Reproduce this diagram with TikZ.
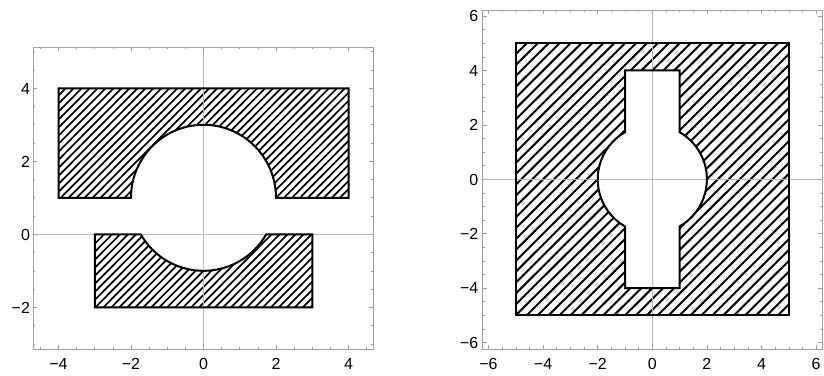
\documentclass[tikz,border=0pt]{standalone}
\usepackage{fontspec}
\setmainfont{Liberation Sans}
\begin{document}
\begin{tikzpicture}[
    frm/.style={draw=gray!75,line width=0.8pt},
    axl/.style={gray!55,line width=0.6pt},
    tk/.style={gray!75,line width=0.6pt},
    edgeline/.style={black,line width=2pt,line join=miter},
    hatch/.style={black,line width=1.7pt},
    lab/.style={font=\fontsize{16}{16}\selectfont,inner sep=0pt,text height=11.5pt,text depth=0pt}]
  \useasboundingbox (0,0) rectangle (824pt,375pt);

  % left plot
  \begin{scope}[shift={(203.5pt,140.7pt)},x=36.25pt,y=36.5pt]
    \begin{scope}
      \clip (-4,1) -- (-2,1) arc[start angle=180,end angle=0,radius=2] -- (4,1) -- (4,4) -- (-4,4) -- cycle
            (-3,0) -- (-1.732,0) arc[start angle=210,end angle=330,radius=2] -- (3,0) -- (3,-2) -- (-3,-2) -- cycle;
      \foreach \t in {-10,-9.78,...,10}
        \draw[hatch] (\t-6,-6) -- (\t+6,6);
    \end{scope}
    \draw[axl] (-4.70,0) -- (4.68,0);
    \draw[axl] (0,-3.14) -- (0,5.13);
    \draw[edgeline] (-4,1) -- (-2,1) arc[start angle=180,end angle=0,radius=2] -- (4,1) -- (4,4) -- (-4,4) -- cycle;
    \draw[edgeline] (-3,0) -- (-1.732,0) arc[start angle=210,end angle=330,radius=2] -- (3,0) -- (3,-2) -- (-3,-2) -- cycle;
    % frame and ticks
    \draw[frm] (-4.70,-3.14) rectangle (4.68,5.13);
    \foreach \x in {-4.5,-4,...,4.5} {
      \draw[tk] (\x,-3.14) -- ++(0,2pt);
      \draw[tk] (\x,5.13) -- ++(0,-2pt);
    }
    \foreach \y in {-3,-2.5,...,5} {
      \draw[tk] (-4.70,\y) -- ++(2pt,0);
      \draw[tk] (4.68,\y) -- ++(-2pt,0);
    }
    \foreach \x in {-4,-2,0,2,4} {
      \draw[tk] (\x,-3.14) -- ++(0,4pt);
      \draw[tk] (\x,5.13) -- ++(0,-4pt);
    }
    \foreach \y in {-2,0,2,4} {
      \draw[tk] (-4.70,\y) -- ++(4pt,0);
      \draw[tk] (4.68,\y) -- ++(-4pt,0);
    }
    \foreach \x/\s [count=\i] in {-4/−4,-2/−2,0/0,2/2,4/4}
      \node[lab,anchor=north] (lbx\i) at ([yshift=-9pt]\x,-3.14) {\s};
    \foreach \y/\s [count=\i] in {-2/−2,0/0,2/2,4/4}
      \node[lab,anchor=east] (lby\i) at ([xshift=-3pt]-4.70,\y) {\s};
  \end{scope}

  % right plot
  \begin{scope}[shift={(652.3pt,195.7pt)},x=27.3pt,y=27.2pt]
    \begin{scope}[even odd rule]
      \clip (-5,-5) rectangle (5,5)
            (-1,4) -- (-1,1.732) arc[start angle=120,end angle=240,radius=2] -- (-1,-4) -- (1,-4)
            -- (1,-1.732) arc[start angle=-60,end angle=60,radius=2] -- (1,4) -- cycle;
      \foreach \t in {-12,-11.6,...,12}
        \draw[hatch,line width=2pt] (\t-7,-7) -- (\t+7,7);
    \end{scope}
    \draw[axl] (-6.22,0) -- (6.22,0);
    \draw[axl] (0,-6.22) -- (0,6.22);
    \draw[edgeline] (-5,-5) rectangle (5,5);
    \draw[edgeline] (-1,4) -- (-1,1.732) arc[start angle=120,end angle=240,radius=2] -- (-1,-4) -- (1,-4)
            -- (1,-1.732) arc[start angle=-60,end angle=60,radius=2] -- (1,4) -- cycle;
    % frame and ticks
    \draw[frm] (-6.22,-6.24) rectangle (6.22,6.22);
    \foreach \v in {-6,-5.5,...,6} {
      \draw[tk] (\v,-6.24) -- ++(0,2pt);
      \draw[tk] (\v,6.22) -- ++(0,-2pt);
      \draw[tk] (-6.22,\v) -- ++(2pt,0);
      \draw[tk] (6.22,\v) -- ++(-2pt,0);
    }
    \foreach \v in {-6,-4,...,6} {
      \draw[tk] (\v,-6.24) -- ++(0,4pt);
      \draw[tk] (\v,6.22) -- ++(0,-4pt);
      \draw[tk] (-6.22,\v) -- ++(4pt,0);
      \draw[tk] (6.22,\v) -- ++(-4pt,0);
    }
    \foreach \x/\s [count=\i] in {-6/−6,-4/−4,-2/−2,0/0,2/2,4/4,6/6}
      \node[lab,anchor=north] (rbx\i) at ([yshift=-9pt]\x,-6.24) {\s};
    \foreach \y/\s [count=\i] in {-6/−6,-4/−4,-2/−2,0/0,2/2,4/4,6/6}
      \node[lab,anchor=east] (rby\i) at ([xshift=-4pt]-6.22,\y) {\s};
  \end{scope}
\end{tikzpicture}
\end{document}
